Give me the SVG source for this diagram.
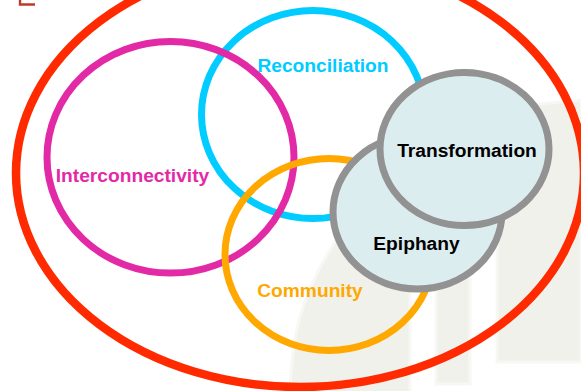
<svg xmlns="http://www.w3.org/2000/svg" width="581" height="391" viewBox="0 0 581 391">
<style>
.ring{fill:none;stroke-width:7}
.big{fill:#dcedf0;stroke:#929292;stroke-width:7}
.bg{fill:#f0f1eb;stroke:#f7f8f4;stroke-width:3}
text{font-family:"Liberation Sans",Arial,sans-serif;font-size:19.2px;font-weight:700;text-anchor:middle}
</style>
<rect width="581" height="391" fill="#fff"/>
<g id="background">
<path class="bg" d="M290 394C291 345 298 295 340 235H410V394Z"/>
<rect class="bg" x="436" y="250" width="34" height="134"/>
<path class="bg" d="M497 108L581 100V362H497Z"/>
</g>
<path id="corner-mark" d="M20 0V4.500H35" fill="none" stroke="#c0392b" stroke-width="2.400"/>
<g id="outer"><ellipse class="ring" cx="300" cy="173" rx="284" ry="214" stroke="#ff2a00" style="stroke-width:8.500"/></g>
<g id="reconciliation"><ellipse class="ring" cx="313" cy="114.500" rx="111.500" ry="104" stroke="#00ccff"/><text x="323" y="71.500" fill="#00ccff">Reconciliation</text></g>
<g id="interconnectivity"><ellipse class="ring" cx="170.500" cy="157.300" rx="123.500" ry="115.800" stroke="#e32aa6"/><text x="132.500" y="181.500" fill="#e32aa6">Interconnectivity</text></g>
<g id="community"><ellipse class="ring" cx="329" cy="254.500" rx="104" ry="96" stroke="#ffa800"/><text x="310" y="297" fill="#ffa800">Community</text></g>
<g id="epiphany"><ellipse class="big" cx="417.500" cy="212" rx="84.500" ry="77"/><text x="416.500" y="250" fill="#000">Epiphany</text></g>
<g id="transformation"><ellipse class="big" cx="464.500" cy="149" rx="84.500" ry="76.500"/><text x="467" y="156.500" fill="#000">Transformation</text></g>
</svg>
